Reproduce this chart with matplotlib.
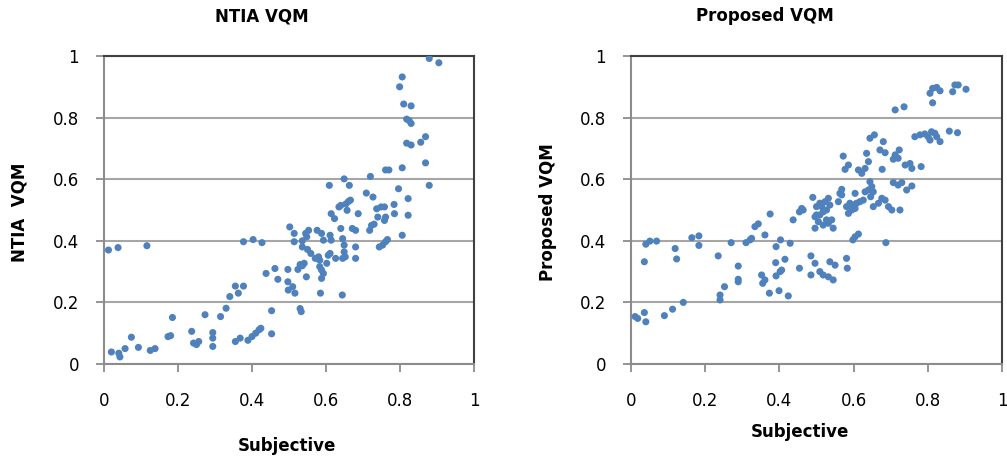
import matplotlib
matplotlib.use("Agg")
import matplotlib.pyplot as plt

# NTIA VQM vs subjective (left panel)
ntia_x = [0.012, 0.038, 0.116, 0.02, 0.04, 0.043, 0.057, 0.074, 0.093, 0.125, 0.138,
          0.173, 0.185, 0.18, 0.237, 0.242, 0.25, 0.256, 0.273, 0.294, 0.294, 0.294,
          0.315, 0.33, 0.34, 0.355, 0.377, 0.363, 0.355, 0.368, 0.377, 0.403, 0.427,
          0.389, 0.4, 0.41, 0.419, 0.424, 0.438, 0.453, 0.453, 0.462, 0.47, 0.497,
          0.497, 0.498, 0.502, 0.51, 0.516, 0.514, 0.514, 0.524, 0.53, 0.536, 0.541,
          0.53, 0.533, 0.536, 0.545, 0.548, 0.536, 0.547, 0.55, 0.559, 0.553, 0.576,
          0.588, 0.593, 0.571, 0.58, 0.583, 0.583, 0.588, 0.593, 0.588, 0.585, 0.602,
          0.606, 0.611, 0.609, 0.614, 0.623, 0.614, 0.611, 0.626, 0.635, 0.64, 0.64,
          0.645, 0.649, 0.649, 0.644, 0.645, 0.652, 0.649, 0.654, 0.661, 0.666, 0.663,
          0.657, 0.671, 0.68, 0.68, 0.68, 0.687, 0.709, 0.718, 0.723, 0.73, 0.72,
          0.727, 0.737, 0.749, 0.758, 0.74, 0.744, 0.753, 0.761, 0.766, 0.758, 0.761,
          0.761, 0.77, 0.784, 0.785, 0.796, 0.799, 0.806, 0.806, 0.806, 0.81, 0.83,
          0.818, 0.825, 0.83, 0.818, 0.83, 0.822, 0.822, 0.856, 0.869, 0.869, 0.879,
          0.879, 0.905]
ntia_y = [0.37, 0.378, 0.384, 0.039, 0.035, 0.023, 0.05, 0.087, 0.054, 0.044, 0.05,
          0.089, 0.151, 0.092, 0.106, 0.068, 0.063, 0.073, 0.16, 0.102, 0.084, 0.057,
          0.154, 0.181, 0.219, 0.253, 0.253, 0.23, 0.073, 0.084, 0.397, 0.404, 0.394,
          0.077, 0.089, 0.1, 0.111, 0.116, 0.294, 0.173, 0.098, 0.31, 0.275, 0.307,
          0.267, 0.24, 0.445, 0.251, 0.23, 0.424, 0.397, 0.307, 0.323, 0.319, 0.327,
          0.18, 0.17, 0.4, 0.424, 0.413, 0.38, 0.283, 0.372, 0.359, 0.434, 0.434,
          0.424, 0.402, 0.343, 0.348, 0.337, 0.316, 0.305, 0.294, 0.278, 0.23, 0.327,
          0.353, 0.359, 0.58, 0.488, 0.472, 0.402, 0.418, 0.343, 0.51, 0.515, 0.44,
          0.407, 0.386, 0.364, 0.224, 0.343, 0.348, 0.601, 0.52, 0.528, 0.532, 0.58,
          0.499, 0.44, 0.434, 0.38, 0.343, 0.488, 0.555, 0.434, 0.45, 0.454, 0.609,
          0.542, 0.504, 0.51, 0.51, 0.477, 0.38, 0.386, 0.397, 0.404, 0.466, 0.477,
          0.63, 0.63, 0.518, 0.488, 0.569, 0.9, 0.932, 0.637, 0.418, 0.844, 0.838,
          0.795, 0.79, 0.781, 0.717, 0.711, 0.537, 0.483, 0.72, 0.738, 0.653, 0.58,
          0.992, 0.978]

# Proposed VQM vs subjective (right panel)
prop_x = [0.011, 0.018, 0.036, 0.04, 0.036, 0.04, 0.051, 0.069, 0.09, 0.112, 0.141,
          0.119, 0.123, 0.164, 0.183, 0.183, 0.235, 0.24, 0.24, 0.252, 0.27, 0.289,
          0.289, 0.289, 0.31, 0.321, 0.325, 0.334, 0.343, 0.352, 0.361, 0.355, 0.361,
          0.375, 0.391, 0.403, 0.429, 0.39, 0.415, 0.391, 0.402, 0.406, 0.373, 0.399,
          0.424, 0.437, 0.454, 0.46, 0.464, 0.454, 0.49, 0.485, 0.496, 0.485, 0.509,
          0.518, 0.532, 0.545, 0.536, 0.55, 0.581, 0.583, 0.509, 0.514, 0.523, 0.532,
          0.536, 0.527, 0.518, 0.5, 0.496, 0.505, 0.518, 0.532, 0.541, 0.545, 0.496,
          0.527, 0.509, 0.5, 0.559, 0.563, 0.568, 0.572, 0.577, 0.586, 0.712, 0.736,
          0.806, 0.813, 0.824, 0.833, 0.813, 0.867, 0.873, 0.882, 0.903, 0.765, 0.779,
          0.792, 0.801, 0.81, 0.819, 0.824, 0.833, 0.806, 0.858, 0.88, 0.644, 0.656,
          0.68, 0.671, 0.685, 0.723, 0.635, 0.64, 0.631, 0.613, 0.622, 0.712, 0.72,
          0.707, 0.677, 0.739, 0.752, 0.757, 0.782, 0.707, 0.72, 0.73, 0.757, 0.743,
          0.644, 0.649, 0.64, 0.653, 0.646, 0.604, 0.631, 0.568, 0.59, 0.599, 0.608,
          0.617, 0.626, 0.586, 0.595, 0.604, 0.581, 0.653, 0.667, 0.676, 0.685, 0.694,
          0.703, 0.725, 0.604, 0.613, 0.598, 0.687]
prop_y = [0.154, 0.148, 0.167, 0.137, 0.332, 0.389, 0.399, 0.399, 0.157, 0.178, 0.2,
          0.375, 0.341, 0.41, 0.416, 0.385, 0.351, 0.224, 0.208, 0.251, 0.394, 0.318,
          0.275, 0.267, 0.394, 0.403, 0.408, 0.446, 0.455, 0.289, 0.273, 0.262, 0.419,
          0.487, 0.381, 0.403, 0.392, 0.329, 0.34, 0.286, 0.3, 0.305, 0.23, 0.238,
          0.221, 0.468, 0.494, 0.505, 0.5, 0.311, 0.541, 0.351, 0.327, 0.289, 0.3,
          0.289, 0.283, 0.273, 0.332, 0.321, 0.343, 0.311, 0.522, 0.511, 0.527, 0.538,
          0.516, 0.5, 0.494, 0.484, 0.478, 0.462, 0.451, 0.457, 0.468, 0.441, 0.441,
          0.468, 0.484, 0.511, 0.527, 0.554, 0.567, 0.675, 0.632, 0.646, 0.825, 0.835,
          0.879, 0.895, 0.898, 0.887, 0.848, 0.884, 0.906, 0.906, 0.892, 0.738, 0.744,
          0.747, 0.738, 0.754, 0.749, 0.738, 0.722, 0.727, 0.756, 0.751, 0.733, 0.744,
          0.722, 0.695, 0.686, 0.695, 0.684, 0.657, 0.635, 0.63, 0.619, 0.679, 0.668,
          0.665, 0.632, 0.646, 0.651, 0.635, 0.641, 0.589, 0.581, 0.589, 0.578, 0.565,
          0.592, 0.576, 0.565, 0.559, 0.543, 0.554, 0.559, 0.549, 0.522, 0.516, 0.522,
          0.527, 0.532, 0.489, 0.5, 0.505, 0.511, 0.511, 0.522, 0.538, 0.532, 0.511,
          0.5, 0.5, 0.413, 0.422, 0.403, 0.394]

ticks = [0, 0.2, 0.4, 0.6, 0.8, 1]
tick_labels = ["0", "0.2", "0.4", "0.6", "0.8", "1"]

plt.rcParams["font.family"] = ["DejaVu Sans"]

W, H = 1007, 461
fig = plt.figure(figsize=(W / 100, H / 100), dpi=100)

blue = "#4F81BD"
grid_gray = "#A6A6A6"


def make_axes(left_px, width_px, xs, ys):
    ax = fig.add_axes([left_px / W, 1 - 364 / H, width_px / W, 308 / H])
    ax.scatter(xs, ys, s=26, color=blue, edgecolors="none", zorder=3)
    ax.set_xlim(0, 1)
    ax.set_ylim(0, 1)
    ax.set_xticks(ticks)
    ax.set_yticks(ticks)
    ax.set_xticklabels(tick_labels, fontsize=12)
    ax.set_yticklabels(tick_labels, fontsize=12)
    ax.yaxis.grid(True, color=grid_gray, linewidth=1.5, zorder=0)
    ax.set_axisbelow(True)
    for side in ("left", "bottom"):
        ax.spines[side].set_color("#8C8C8C")
        ax.spines[side].set_linewidth(1.5)
    for side in ("top", "right"):
        ax.spines[side].set_color("#404040")
        ax.spines[side].set_linewidth(1.5)
    ax.tick_params(axis="both", direction="out", length=6, width=1.3,
                   color="#8C8C8C", labelcolor="black")
    ax.tick_params(axis="x", pad=14)
    ax.tick_params(axis="y", pad=12)
    return ax


ax1 = make_axes(104, 370, ntia_x, ntia_y)
ax2 = make_axes(631, 371, prop_x, prop_y)

fig.text(262 / W, 1 - 16 / H, "NTIA VQM", ha="center", va="center",
         fontsize=12, fontweight="bold")
fig.text(765 / W, 1 - 16 / H, "Proposed VQM", ha="center", va="center",
         fontsize=12, fontweight="bold")
fig.text(20 / W, 1 - 212 / H, "NTIA  VQM", ha="center", va="center",
         rotation=90, fontsize=12, fontweight="bold")
fig.text(548 / W, 1 - 212 / H, "Proposed VQM", ha="center", va="center",
         rotation=90, fontsize=12, fontweight="bold")
fig.text(287 / W, 1 - 446 / H, "Subjective", ha="center", va="center",
         fontsize=12, fontweight="bold")
fig.text(800 / W, 1 - 432 / H, "Subjective", ha="center", va="center",
         fontsize=12, fontweight="bold")

fig.savefig("out.png", dpi=100)
